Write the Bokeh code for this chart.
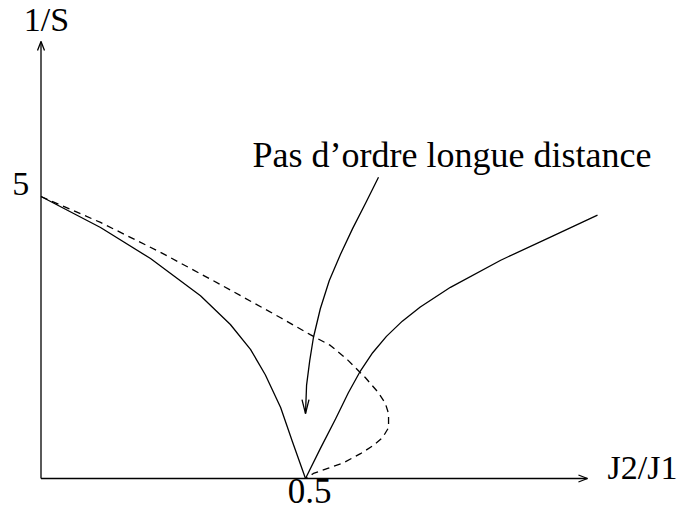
from bokeh.plotting import figure
from bokeh.models import Range1d, ColumnDataSource
from bokeh.core.properties import value
from bokeh.embed import file_html
from bokeh.resources import INLINE

# Solid curve, left branch (J2/J1 < 0.5)
j_left = [0.0, 0.1125, 0.207, 0.3015, 0.358, 0.396, 0.424, 0.453, 0.475, 0.5]
s_left = [5.0, 4.45, 3.90, 3.24, 2.73, 2.29, 1.84, 1.26, 0.66, 0.0]

# Solid curve, right branch (J2/J1 > 0.5)
j_right = [0.5, 0.528, 0.557, 0.581, 0.604, 0.627, 0.653, 0.683, 0.717,
           0.774, 0.869, 0.963, 1.052]
s_right = [0.0, 0.53, 1.06, 1.52, 1.91, 2.23, 2.52, 2.79, 3.04,
           3.39, 3.87, 4.28, 4.67]

# Dashed curve, folding back onto the 0.5 point
j_dash = [0.0, 0.1125, 0.226, 0.339, 0.453, 0.509, 0.547, 0.581, 0.613, 0.638,
          0.651, 0.657, 0.657, 0.646, 0.629, 0.604, 0.572, 0.542, 0.515, 0.5]
s_dash = [5.0, 4.54, 4.01, 3.44, 2.85, 2.55, 2.36, 2.09, 1.79, 1.52,
          1.33, 1.15, 0.90, 0.73, 0.59, 0.44, 0.28, 0.18, 0.09, 0.0]

# Curved pointer from the caption down to the region around 0.5
j_ptr = [0.638, 0.614, 0.589, 0.566, 0.545, 0.528, 0.515, 0.508, 0.502, 0.5]
s_ptr = [5.34, 4.89, 4.43, 3.97, 3.51, 3.01, 2.50, 2.09, 1.65, 1.15]

x_axis_end = 1.033
y_axis_end = 7.75

caption = "Pas d\u2019ordre longue distance"
y_tick_label = "5"
x_tick_label = "0.5"
x_title = "J2/J1"
y_title = "1/S"

W, H = 679, 511
PX_X = 529.0   # pixels per unit of J2/J1
PX_Y = 56.4    # pixels per unit of 1/S
X0 = -40.5 / PX_X
Y0 = -33.0 / PX_Y

p = figure(width=W, height=H, output_backend="svg", toolbar_location=None,
           x_range=Range1d(X0, X0 + W / PX_X), y_range=Range1d(Y0, Y0 + H / PX_Y),
           min_border=0)
p.axis.visible = False
p.grid.visible = False
p.outline_line_color = None
p.background_fill_color = "white"
p.border_fill_color = "white"

LW = 1.3
INK = "black"


def arrow_head(x, y, ux, uy, length, half):
    """Open arrowhead at (x, y) pointing along screen direction (ux, uy)."""
    # screen y grows downwards; convert to data offsets
    bx, by = -ux * length, -uy * length
    nx, ny = -uy * half, ux * half
    xs = [x + (bx + nx) / PX_X, x, x + (bx - nx) / PX_X]
    ys = [y - (by + ny) / PX_Y, y, y - (by - ny) / PX_Y]
    p.line(xs, ys, line_color=INK, line_width=LW)


# axes
p.line([0, x_axis_end], [0, 0], line_color=INK, line_width=LW)
p.line([0, 0], [0, y_axis_end], line_color=INK, line_width=LW)
arrow_head(x_axis_end, 0, 1, 0, 9, 3.5)
arrow_head(0, y_axis_end, 0, -1, 9, 3.5)

# curves
p.line(j_left, s_left, line_color=INK, line_width=LW, line_join="round")
p.line(j_right, s_right, line_color=INK, line_width=LW, line_join="round")
p.line(j_dash, s_dash, line_color=INK, line_width=LW, line_dash="7 5",
       line_join="round")

# pointer
p.line(j_ptr, s_ptr, line_color=INK, line_width=LW, line_join="round")
arrow_head(j_ptr[-1], s_ptr[-1], 0, 1, 14, 3.5)

font = value("Liberation Serif")

labels = ColumnDataSource(dict(
    x=[0.0104, -0.022, 0.5, 1.071, 0.4],
    y=[7.91, 5.0, -0.46, -0.035, 5.50],
    text=[y_title, y_tick_label, x_tick_label, x_title, caption],
    align=["center", "right", "center", "left", "left"],
    dx=[0, 0, 4, 0, 0],
    size=["34px", "34px", "35px", "34px", "36px"],
))
p.text(x="x", y="y", text="text", source=labels, text_align="align",
       x_offset="dx", y_offset=-13, text_baseline="alphabetic", text_font=font,
       text_font_size="size", text_color=INK)

open("out.html", "w").write(file_html(p, INLINE))
